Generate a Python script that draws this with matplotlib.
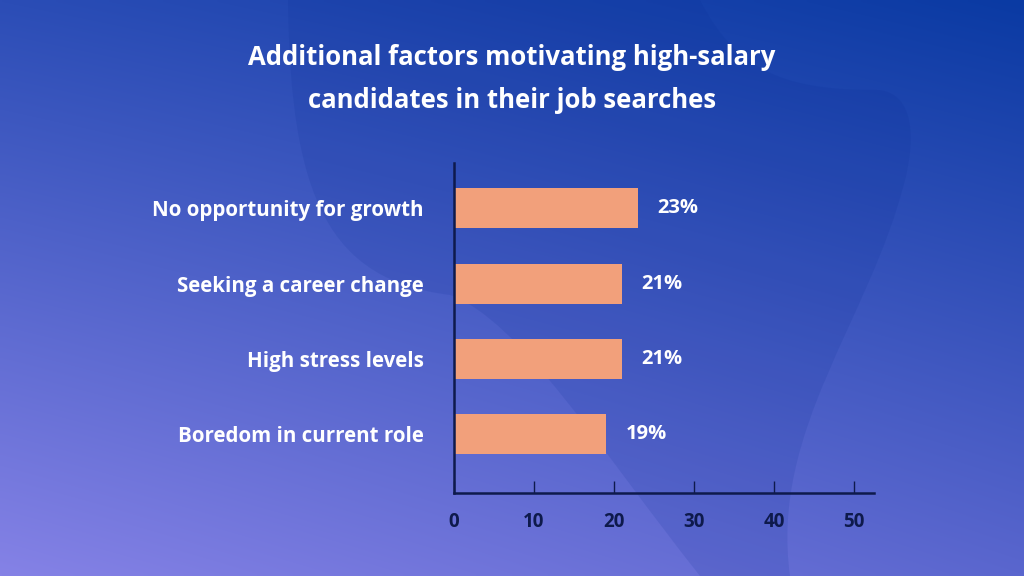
import numpy as np
import matplotlib
matplotlib.use('Agg')
import matplotlib.pyplot as plt
from matplotlib.patches import PathPatch
from matplotlib.path import Path
from matplotlib.colors import to_rgb

# -------------------------------
# Data
# -------------------------------
categories = ['No opportunity for growth', 'Seeking a career change',
              'High stress levels', 'Boredom in current role']
values = [23, 21, 21, 19]
value_labels = ['23%', '21%', '21%', '19%']
xticks = [0, 10, 20, 30, 40, 50]
title = 'Additional factors motivating high-salary\ncandidates in their job searches'

BAR_COLOR = '#f2a07b'
AXIS_COLOR = '#0e1a4c'
FONT = ['Open Sans', 'DejaVu Sans']

plt.rcParams['font.family'] = FONT

W, H = 1024, 576
fig = plt.figure(figsize=(W / 100, H / 100), dpi=100)

# -------------------------------
# Background gradient + blob
# -------------------------------
bg = fig.add_axes([0, 0, 1, 1])
tl, tr = np.array(to_rgb('#2b4db6')), np.array(to_rgb('#0a3aa3'))
bl, br = np.array(to_rgb('#8582e6')), np.array(to_rgb('#5a66ce'))
u = np.linspace(0, 1, 256)[None, :, None]
v = np.linspace(0, 1, 144)[:, None, None]
img = (1 - v) * ((1 - u) * tl + u * tr) + v * ((1 - u) * bl + u * br)
bg.imshow(img, extent=[0, W, H, 0], aspect='auto', interpolation='bilinear')

# smooth decorative blob (bezier path, pixel coords)
C = Path.CURVE4
verts = [(288, 0), (700, 0),
         (740, 80), (800, 90), (880, 90),
         (915, 95), (915, 140), (905, 180),
         (870, 320), (770, 430), (790, 576),
         (700, 576),
         (600, 450), (520, 320), (450, 295),
         (330, 280), (290, 200), (288, 0)]
codes = [Path.MOVETO, Path.LINETO, C, C, C, C, C, C, C, C, C,
         Path.LINETO, C, C, C, C, C, C]
bg.add_patch(PathPatch(Path(verts, codes), facecolor='#062a92', alpha=0.12, edgecolor='none'))
bg.set_xlim(0, W)
bg.set_ylim(H, 0)
bg.axis('off')

# -------------------------------
# Bar chart
# -------------------------------
ax = fig.add_axes([454 / W, 1 - 493 / H, 420 / W, 330 / H])
ax.patch.set_alpha(0)
y = np.arange(len(categories))
ax.barh(y, values, height=0.53, color=BAR_COLOR, zorder=2)
ax.set_xlim(0, 52.5)
ax.set_ylim(len(categories) - 1 + 0.78, -0.6)

for yi, v_, lab in zip(y, values, value_labels):
    ax.annotate(lab, (v_, yi), xytext=(14, 0), textcoords='offset points',
                va='center', ha='left', color='white', fontsize=14.5, fontweight='bold')

ax.set_yticks(y)
ax.set_yticklabels(categories, color='white', fontsize=14.8, fontweight='bold')
ax.set_xticks(xticks)
ax.set_xticklabels([str(t) for t in xticks], color=AXIS_COLOR, fontsize=13.5, fontweight='bold')
ax.tick_params(axis='y', length=0, pad=22)
ax.tick_params(axis='x', direction='in', length=9, width=1, color=AXIS_COLOR, pad=14)

for s in ['top', 'right']:
    ax.spines[s].set_visible(False)
for s in ['left', 'bottom']:
    ax.spines[s].set_color(AXIS_COLOR)
    ax.spines[s].set_linewidth(1.8)

fig.text(0.5, 1 - 79 / H, title, ha='center', va='center', color='white',
         fontsize=18.5, fontweight='bold', linespacing=1.75)

fig.savefig('out.png', dpi=100)
